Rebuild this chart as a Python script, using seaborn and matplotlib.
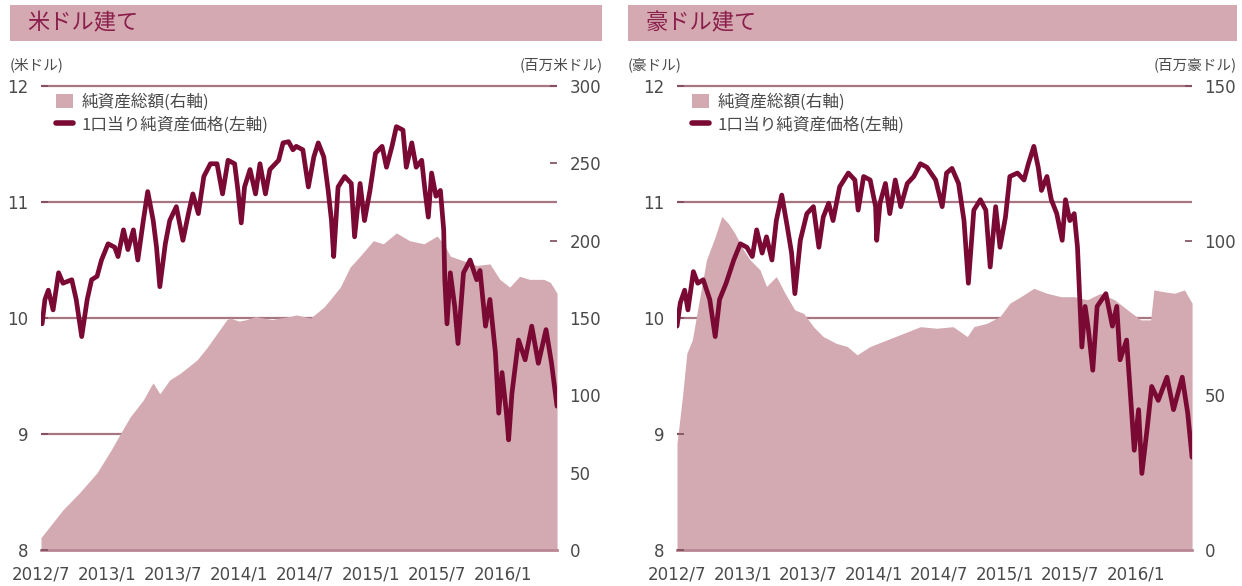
import numpy as np
import pandas as pd
import matplotlib.pyplot as plt
import seaborn as sns
from matplotlib.patches import Rectangle, Patch
from matplotlib.lines import Line2D

# values, x = months since 2012/7
usd_nav_month = [0.1, 0.36, 0.67, 1.1, 1.6, 2.0, 2.8, 3.2, 3.7, 4.2, 4.6, 5.1, 5.5, 6.1, 6.7, 7.0, 7.5, 7.9,
                 8.4, 8.8, 9.3, 9.7, 10.2, 10.5, 10.8, 11.3, 11.7, 12.3, 12.9, 13.4, 13.8, 14.3, 14.8, 15.4,
                 16.0, 16.5, 17.0, 17.6, 17.9, 18.2, 18.5, 19.0, 19.5, 19.9, 20.4, 20.8, 21.6, 22.0, 22.5,
                 22.9, 23.2, 23.8, 24.3, 24.8, 25.2, 25.7, 26.1, 26.4, 26.6, 27.0, 27.6, 28.2, 28.5, 29.0,
                 29.4, 29.9, 30.4, 31.0, 31.4, 31.9, 32.3, 32.9, 33.2, 33.7, 34.1, 34.6, 34.9, 35.2, 35.5,
                 35.9, 36.3, 36.6, 36.7, 36.9, 37.2, 37.6, 37.9, 38.4, 39.0, 39.6, 39.9, 40.4, 40.8, 41.3,
                 41.6, 41.9, 42.3, 42.5, 42.8, 43.4, 44.0, 44.6, 45.2, 45.9, 46.4, 46.9]
usd_nav = [9.95, 10.16, 10.24, 10.07, 10.39, 10.30, 10.33, 10.16, 9.84, 10.16, 10.33, 10.36, 10.50, 10.64,
           10.61, 10.53, 10.76, 10.59, 10.76, 10.50, 10.84, 11.09, 10.84, 10.61, 10.27, 10.64, 10.84, 10.96,
           10.67, 10.90, 11.07, 10.90, 11.22, 11.33, 11.33, 11.07, 11.36, 11.33, 11.10, 10.82, 11.13, 11.28,
           11.07, 11.33, 11.07, 11.28, 11.36, 11.51, 11.52, 11.45, 11.48, 11.45, 11.13, 11.39, 11.51, 11.39,
           11.10, 10.84, 10.53, 11.13, 11.22, 11.16, 10.70, 11.16, 10.84, 11.10, 11.42, 11.48, 11.30, 11.48,
           11.65, 11.62, 11.30, 11.51, 11.30, 11.36, 11.10, 10.87, 11.25, 11.05, 11.10, 10.76, 10.33, 9.95,
           10.39, 10.10, 9.78, 10.39, 10.50, 10.33, 10.41, 9.93, 10.16, 9.70, 9.18, 9.53, 9.18, 8.95, 9.35,
           9.81, 9.64, 9.93, 9.61, 9.90, 9.61, 9.24]

usd_aum_month = [0.0, 2.0, 3.5, 5.1, 6.4, 7.2, 8.1, 9.3, 10.0, 10.2, 10.8, 11.7, 12.6, 13.5, 14.2, 15.1,
                 16.0, 16.9, 17.2, 18.0, 18.7, 19.5, 20.2, 21.0, 21.7, 22.6, 23.2, 24.5, 25.7, 26.3, 27.2,
                 28.1, 29.0, 30.2, 31.1, 32.3, 33.5, 34.8, 36.0, 36.6, 37.2, 38.4, 39.6, 40.8, 41.7, 42.6,
                 43.5, 44.4, 45.7, 46.3, 46.9]
usd_aum = [8, 26, 37, 50, 65, 75, 86, 97, 106, 108, 101, 110, 114, 119, 123, 131, 140, 149, 150, 148, 149,
           151, 150, 149, 150, 151, 152, 150, 157, 162, 170, 183, 190, 200, 198, 205, 200, 198, 203, 198,
           190, 187, 184, 185, 175, 170, 177, 175, 175, 173, 166]

aud_nav_month = [0.0, 0.3, 0.7, 1.0, 1.5, 1.9, 2.4, 3.0, 3.5, 3.9, 4.5, 5.2, 5.8, 6.4, 6.9, 7.3, 7.8, 8.2,
                 8.7, 9.1, 9.6, 10.1, 10.5, 10.8, 11.3, 11.9, 12.5, 13.0, 13.4, 13.9, 14.3, 14.9, 15.7,
                 16.3, 16.6, 17.1, 17.7, 18.2, 18.3, 18.6, 19.1, 19.5, 20.0, 20.5, 21.1, 21.7, 22.3, 22.9,
                 23.7, 24.3, 24.7, 25.2, 25.8, 26.3, 26.7, 27.2, 27.8, 28.3, 28.7, 29.2, 29.6, 30.1, 30.5,
                 31.2, 31.8, 32.2, 32.7, 33.1, 33.4, 33.9, 34.3, 34.8, 35.3, 35.6, 36.0, 36.4, 36.7, 36.9,
                 37.1, 37.4, 37.7, 38.1, 38.5, 39.3, 39.9, 40.3, 40.6, 41.2, 41.5, 41.9, 42.3, 42.6, 43.1,
                 43.5, 44.1, 44.9, 45.5, 46.3, 46.8, 47.2]
aud_nav = [9.93, 10.13, 10.24, 10.07, 10.40, 10.30, 10.33, 10.16, 9.84, 10.16, 10.30, 10.50, 10.64, 10.61,
           10.53, 10.76, 10.56, 10.70, 10.50, 10.84, 11.06, 10.79, 10.56, 10.21, 10.67, 10.90, 10.96, 10.61,
           10.87, 10.99, 10.84, 11.13, 11.25, 11.19, 10.93, 11.22, 11.19, 10.96, 10.67, 10.99, 11.16, 10.90,
           11.19, 10.96, 11.16, 11.22, 11.33, 11.30, 11.19, 10.96, 11.25, 11.29, 11.16, 10.84, 10.30, 10.93,
           11.02, 10.93, 10.44, 10.96, 10.61, 10.87, 11.22, 11.25, 11.19, 11.33, 11.48, 11.30, 11.10, 11.22,
           11.02, 10.90, 10.67, 11.02, 10.84, 10.90, 10.61, 10.18, 9.75, 10.10, 9.90, 9.55, 10.10, 10.21,
           9.93, 10.10, 9.64, 9.81, 9.41, 8.86, 9.21, 8.66, 9.06, 9.41, 9.29, 9.49, 9.21, 9.49, 9.18, 8.80]

aud_aum_month = [0.0, 0.5, 0.9, 1.4, 2.1, 2.7, 3.5, 4.1, 4.7, 5.3, 6.1, 6.7, 7.6, 8.2, 9.1, 9.9, 10.8, 11.6,
                 12.5, 13.4, 14.6, 15.6, 16.5, 17.7, 19.2, 20.8, 22.3, 23.8, 25.3, 26.6, 27.2, 28.4, 29.6,
                 30.5, 31.5, 32.7, 33.9, 35.2, 36.4, 37.6, 38.8, 40.1, 41.3, 42.5, 43.4, 43.7, 44.6, 45.6,
                 46.5, 47.2]
aud_aum = [34.5, 49.6, 63.6, 67.9, 81.9, 93.8, 101.3, 107.8, 105.6, 102.4, 97.0, 93.8, 90.6, 85.2, 88.4,
           83.0, 77.6, 76.5, 72.2, 69.0, 66.8, 65.8, 63.1, 65.8, 67.9, 70.1, 72.2, 71.7, 72.2, 69.0, 72.2,
           73.3, 75.5, 79.8, 81.9, 84.6, 83.0, 81.9, 81.9, 80.9, 83.0, 80.9, 77.6, 74.4, 74.4, 84.1, 83.5,
           83.0, 84.1, 79.8]

tick_labels = ["2012/7", "2013/1", "2013/7", "2014/1", "2014/7", "2015/1", "2015/7", "2016/1"]
nav_ticks = [8, 9, 10, 11, 12]
grid_levels = [9, 10, 11, 12]
usd_aum_ticks = [0, 50, 100, 150, 200, 250, 300]
aud_aum_ticks = [0, 50, 100, 150]

AREA = "#d3aab2"
BAR = "#d4a9b1"
LINE = "#7a0a33"
GRID = "#a67683"
TITLE = "#8b1f4c"
TXT = "#4a4a4a"
JP = ["Noto Sans CJK JP", "DejaVu Sans"]

sns.set_style("white")
plt.rcParams["font.family"] = ["DejaVu Sans", "Noto Sans CJK JP"]


def to_dates(months):
    return pd.Timestamp("2012-07-01") + pd.to_timedelta(np.asarray(months) * 30.44, unit="D")


def panel(fig, rect, bar, title, unit_l, unit_r, nav_m, nav, aum_m, aum, aum_ticks):
    # title bar
    fig.patches.append(Rectangle((bar[0], bar[1]), bar[2], bar[3], transform=fig.transFigure,
                                 facecolor=BAR, edgecolor="none"))
    fig.text(bar[0] + 0.014, bar[1] + bar[3] / 2, title, family=JP, fontsize=16, color=TITLE,
             va="center", ha="left")
    fig.text(bar[0], 0.889, unit_l, family=JP, fontsize=10.5, color=TXT, va="center", ha="left")
    fig.text(bar[0] + bar[2], 0.889, unit_r, family=JP, fontsize=10.5, color=TXT, va="center", ha="right")

    ax_aum = fig.add_axes(rect)
    ax_nav = ax_aum.twinx()

    nav_dates = to_dates(nav_m)
    aum_dates = to_dates(aum_m)
    end = max(nav_dates[-1], aum_dates[-1])

    ax_aum.fill_between(aum_dates, aum, 0, color=AREA, linewidth=0, zorder=1)
    sns.lineplot(x=nav_dates, y=nav, ax=ax_nav, color=LINE, linewidth=3.4, sort=False,
                 estimator=None, legend=False)

    ax_nav.set_ylim(8, 12)
    ax_aum.set_ylim(0, aum_ticks[-1])
    ax_aum.set_xlim(pd.Timestamp("2012-07-01"), end)
    ax_nav.set_xlim(pd.Timestamp("2012-07-01"), end)

    # horizontal rules at the left-axis levels, kept under the area
    ax_aum.hlines(grid_levels, 0, 1, transform=ax_nav.get_yaxis_transform(), colors=GRID,
                  linewidth=1.6, zorder=0.5, clip_on=False)

    ax_aum.set_xticks(pd.to_datetime(tick_labels, format="%Y/%m"))
    ax_aum.set_xticklabels(tick_labels)
    ax_aum.set_yticks(aum_ticks)
    ax_nav.set_yticks(nav_ticks)

    ax_aum.yaxis.tick_right()
    ax_nav.yaxis.tick_left()
    ax_aum.tick_params(axis="x", direction="in", length=5, width=1.2, color="#6e3a4a",
                       labelsize=12, labelcolor=TXT, pad=11)
    ax_aum.tick_params(axis="y", direction="in", length=5, width=1.2, color="#7d4a5a",
                       labelsize=12, labelcolor=TXT, pad=9, left=False, right=True,
                       labelleft=False, labelright=True)
    ax_nav.tick_params(axis="y", direction="in", length=5, width=1.2, color="#7d4a5a",
                       labelsize=12, labelcolor=TXT, pad=9, left=True, right=False,
                       labelleft=True, labelright=False)
    ax_aum.set_xlabel("")
    ax_aum.set_ylabel("")
    ax_nav.set_xlabel("")
    ax_nav.set_ylabel("")

    for s in ["top", "left", "right"]:
        ax_aum.spines[s].set_visible(False)
    for s in ax_nav.spines.values():
        s.set_visible(False)
    ax_aum.spines["bottom"].set_color("#b98694")
    ax_aum.spines["bottom"].set_linewidth(2)

    handles = [Patch(facecolor=AREA, edgecolor="none"), Line2D([], [], color=LINE, linewidth=4)]
    labels = ["純資産総額(右軸)", "1口当り純資産価格(左軸)"]
    ax_nav.legend(handles, labels, loc="upper left", bbox_to_anchor=(0.03, 0.985), frameon=False,
                  borderpad=0, borderaxespad=0, handlelength=1.0, handleheight=0.9,
                  handletextpad=0.5, labelspacing=0.35, prop={"family": JP, "size": 12},
                  labelcolor=TXT)


fig = plt.figure(figsize=(12.42, 5.86), dpi=100)

panel(fig, [0.0330, 0.0614, 0.4155, 0.7918], [0.0080, 0.930, 0.4770, 0.0615],
      "米ドル建て", "(米ドル)", "(百万米ドル)",
      usd_nav_month, usd_nav, usd_aum_month, usd_aum, usd_aum_ticks)
panel(fig, [0.5451, 0.0614, 0.4147, 0.7918], [0.5056, 0.930, 0.4905, 0.0615],
      "豪ドル建て", "(豪ドル)", "(百万豪ドル)",
      aud_nav_month, aud_nav, aud_aum_month, aud_aum, aud_aum_ticks)

fig.savefig("out.png", dpi=100)
